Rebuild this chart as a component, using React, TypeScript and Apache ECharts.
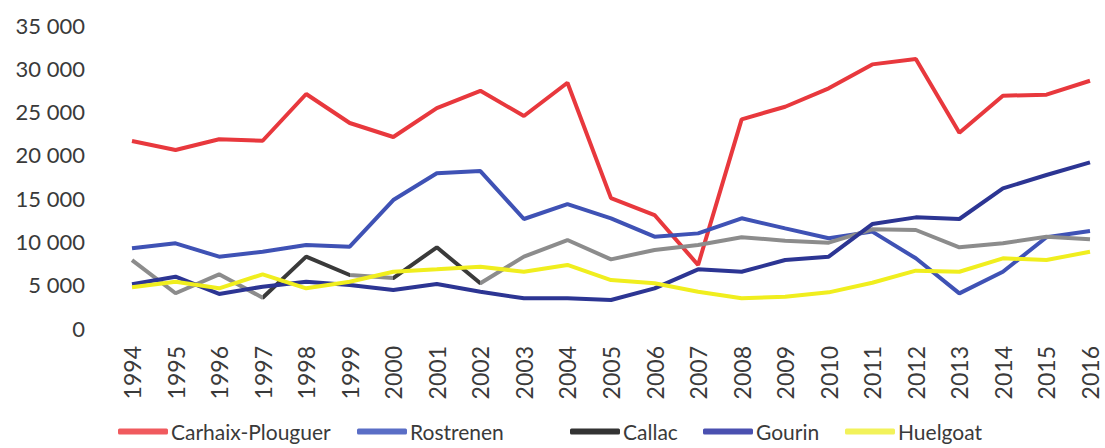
import React, { useEffect, useRef } from "react";
import * as echarts from "echarts";

const years = ["1994","1995","1996","1997","1998","1999","2000","2001","2002","2003","2004","2005","2006","2007","2008","2009","2010","2011","2012","2013","2014","2015","2016"];

const carhaix = [21600,20560,21800,21630,27030,23680,22060,25400,27400,24490,28330,15000,13050,7280,24100,25560,27680,30450,31070,22560,26830,26950,28560];
const rostrenen = [9200,9780,8240,8810,9590,9390,14780,17870,18130,12590,14320,12670,10550,10930,12670,11510,10360,11130,8050,4000,6500,10480,11200];
const callac = [7850,4010,6200,3500,8240,6120,5770,9320,5160,8240,10160,7930,9010,9590,10480,10090,9860,11400,11320,9320,9780,10550,10250];
const gourin = [5050,5930,3930,4770,5350,4970,4390,5080,4190,3430,3430,3230,4580,6780,6500,7850,8240,12010,12780,12590,16130,17670,19140];
const huelgoat = [4700,5350,4580,6200,4580,5350,6500,6780,7080,6500,7280,5540,5160,4190,3430,3620,4120,5230,6620,6500,8050,7850,8810];

const yTicks = { min: 0, max: 35000, interval: 5000 };

const FONT = 'Lato, "Open Sans", sans-serif';
const TEXT = "#3a3a3a";

const legendItems = [
  { name: "Carhaix-Plouguer", color: "#f05a5e", left: 118 },
  { name: "Rostrenen", color: "#5a6ec6", left: 357 },
  { name: "Callac", color: "#333333", left: 570 },
  { name: "Gourin", color: "#4a50b0", left: 703 },
  { name: "Huelgoat", color: "#f2f25a", left: 845 },
];

export default function App() {
  const ref = useRef<HTMLDivElement>(null);
  useEffect(() => {
    document.body.style.margin = "0";
    const chart = echarts.init(ref.current!, undefined, { renderer: "svg" });
    const line = (name: string, data: number[], color?: string) => ({
      name,
      type: "line",
      data,
      showSymbol: false,
      symbol: "none",
      lineStyle: color ? { width: 4, color } : { width: 4 },
      itemStyle: color ? { color } : {},
      z: 2,
    });
    chart.setOption({
      animation: false,
      textStyle: { fontFamily: FONT },
      grid: { left: 132, right: 15, top: 25, bottom: 120, containLabel: false },
      legend: legendItems.map((it) => ({
        top: 421,
        left: it.left,
        padding: 0,
        itemWidth: 50,
        itemHeight: 6,
        icon: "roundRect",
        textStyle: { fontSize: 21, color: TEXT, fontFamily: FONT, padding: [0, 0, 0, -2] },
        data: [{ name: it.name, itemStyle: { color: it.color } }],
      })),
      xAxis: {
        type: "category",
        data: years,
        boundaryGap: false,
        axisLine: { show: false },
        axisTick: { show: false },
        splitLine: { show: false },
        axisLabel: { rotate: 90, fontSize: 23, color: TEXT, margin: 18, fontFamily: FONT },
      },
      yAxis: {
        type: "value",
        min: yTicks.min,
        max: yTicks.max,
        interval: yTicks.interval,
        axisLine: { show: false },
        axisTick: { show: false },
        splitLine: { show: false },
        axisLabel: {
          fontSize: 22,
          color: TEXT,
          margin: 47,
          fontFamily: FONT,
          formatter: (v: number) => String(v).replace(/\B(?=(\d{3})+(?!\d))/g, " "),
        },
      },
      visualMap: {
        type: "piecewise",
        show: false,
        seriesIndex: 2,
        dimension: 0,
        pieces: [
          { lt: 2.7, color: "#8c8c8c" },
          { gte: 2.7, lt: 5.3, color: "#3a3a3a" },
          { gte: 5.3, lt: 6.3, color: "#8c8c8c" },
          { gte: 6.3, lt: 7.5, color: "#3a3a3a" },
          { gte: 7.5, color: "#8c8c8c" },
        ],
      },
      series: [
        line("Carhaix-Plouguer", carhaix, "#e8383d"),
        line("Rostrenen", rostrenen, "#3f52b5"),
        line("Callac", callac),
        line("Gourin", gourin, "#2c3593"),
        line("Huelgoat", huelgoat, "#f0ee1e"),
      ],
    });
    return () => chart.dispose();
  }, []);
  return <div ref={ref} style={{ width: 1105, height: 448 }} />;
}
